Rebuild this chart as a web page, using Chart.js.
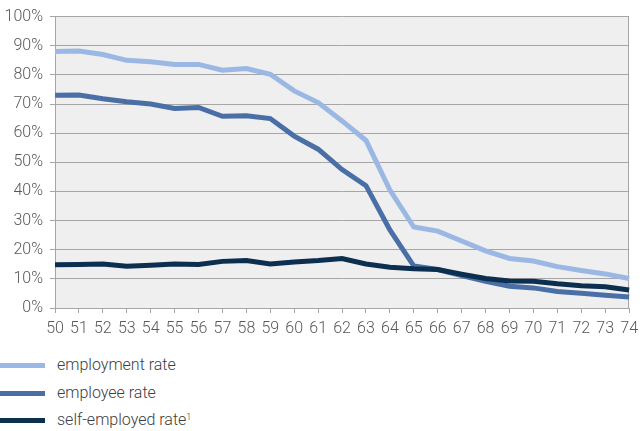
<!DOCTYPE html>
<html><head><meta charset="utf-8">
<script src="https://cdn.jsdelivr.net/npm/chart.js@4/dist/chart.umd.min.js"></script>
<style>
html,body{margin:0;padding:0;background:#fff;width:644px;height:431px;overflow:hidden;font-family:Roboto,sans-serif;}
#wrap{position:absolute;left:0;top:0;width:644px;height:340px;}
.leg{position:absolute;left:0;height:20px;font-size:16px;font-weight:300;color:#404040;line-height:20px;}
.leg span.l{position:absolute;left:0;top:8px;width:45px;height:5px;}
.leg span.t{position:absolute;left:57px;top:0;white-space:nowrap;}
sup{font-size:9px;vertical-align:top;position:relative;top:-3px;}
</style></head><body>
<div id="wrap"><canvas id="c" width="644" height="340"></canvas></div>
<div class="leg" style="top:355px"><span class="l" style="background:#9bb8e4"></span><span class="t">employment rate</span></div>
<div class="leg" style="top:383px"><span class="l" style="background:#4a6ea6"></span><span class="t">employee rate</span></div>
<div class="leg" style="top:410px"><span class="l" style="background:#0c2f4f"></span><span class="t">self-employed rate<sup>1</sup></span></div>
<script>
const ages = ["50","51","52","53","54","55","56","57","58","59","60","61","62","63","64","65","66","67","68","69","70","71","72","73","74"];
const employmentRate = [88,88.2,87,85,84.5,83.6,83.6,81.6,82.2,80.2,74.5,70.5,64.2,57.5,40.5,27.8,26.4,23,19.6,17,16.1,14.2,12.9,11.7,10.1];
const employeeRate = [73,73.1,71.8,70.8,70,68.5,68.8,65.8,66,65,59,54.5,47.5,42,26.8,14.4,13.2,11.1,9.2,7.5,6.9,5.7,5.1,4.4,3.8];
const selfEmployedRate = [14.8,14.9,15.1,14.3,14.7,15.1,14.9,16,16.3,15.1,15.8,16.3,17,15.1,14,13.5,13.2,11.6,10.1,9.3,9.2,8.3,7.6,7.3,6.2];
const yTicks = [0,10,20,30,40,50,60,70,80,90,100];

const bgPlugin = {
  id:'bg',
  beforeDraw(chart){
    const {ctx, chartArea:a} = chart;
    ctx.save();
    ctx.fillStyle = '#efefef';
    ctx.fillRect(a.left, a.top, a.right-a.left, a.bottom-a.top);
    ctx.restore();
  },
  beforeDatasetsDraw(chart){
    const {ctx, chartArea:a} = chart;
    ctx.save();
    ctx.strokeStyle = '#a6a6a6';
    ctx.lineWidth = 1;
    ctx.beginPath();
    ctx.moveTo(Math.round(a.right)-0.5, a.top);
    ctx.lineTo(Math.round(a.right)-0.5, a.bottom);
    ctx.stroke();
    ctx.restore();
  }
};

const tickFont = {family:'Roboto', size:16, weight:'300'};
new Chart(document.getElementById('c'), {
  type:'line',
  data:{
    labels: ages,
    datasets:[
      {label:'self-employed rate', data:selfEmployedRate, borderColor:'#0c2f4f', borderWidth:5, pointRadius:0, tension:0, order:1},
      {label:'employee rate', data:employeeRate, borderColor:'#4a6ea6', borderWidth:5, pointRadius:0, tension:0, order:2},
      {label:'employment rate', data:employmentRate, borderColor:'#9bb8e4', borderWidth:5, pointRadius:0, tension:0, order:3}
    ]
  },
  options:{
    responsive:false, animation:false,
    layout:{padding:{top:14, right:11, left:0, bottom:0}},
    plugins:{legend:{display:false}, tooltip:{enabled:false}},
    scales:{
      x:{
        offset:false,
        grid:{drawOnChartArea:false, drawTicks:true, tickLength:5, color:'#a6a6a6'},
        border:{color:'#a6a6a6', width:1},
        ticks:{color:'#595959', font:tickFont, padding:6, maxRotation:0, autoSkip:false},
        afterFit(s){ s.height = 32; }
      },
      y:{
        min:0, max:100,
        afterBuildTicks(s){ s.ticks = yTicks.map(v=>({value:v})); },
        grid:{color:'#a6a6a6', lineWidth:1, tickLength:5},
        border:{color:'#a6a6a6', width:1},
        ticks:{color:'#595959', font:tickFont, padding:7, callback:v=>v+'%'},
        afterFit(s){ s.width = 55; }
      }
    }
  },
  plugins:[bgPlugin]
});
</script>
</body></html>
